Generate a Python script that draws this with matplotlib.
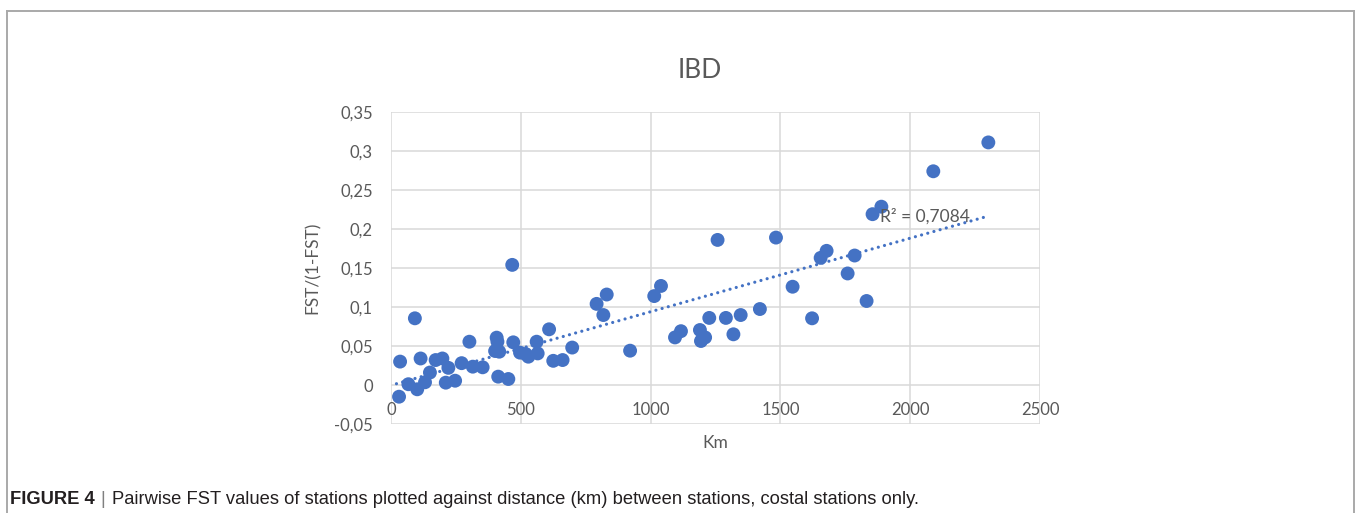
import matplotlib
matplotlib.use("Agg")
import matplotlib.pyplot as plt
from matplotlib import font_manager
from matplotlib.lines import Line2D
from matplotlib.ticker import FuncFormatter, FixedLocator
import numpy as np

# ---------------- data ----------------
km = [31, 35, 67, 92, 101, 114, 131, 150, 172, 198, 211, 221, 247, 272, 302, 315,
      353, 401, 407, 410, 413, 417, 452, 467, 471, 497, 519, 529, 561, 565, 609,
      625, 661, 698, 792, 818, 831, 921, 1014, 1040, 1094, 1117, 1190, 1194, 1210,
      1226, 1258, 1290, 1319, 1347, 1421, 1483, 1547, 1622, 1655, 1678, 1759, 1786,
      1832, 1855, 1889, 2089, 2301]
fst = [-0.015, 0.030, 0.001, 0.0855, -0.0055, 0.034, 0.0035, 0.016, 0.032, 0.034,
       0.003, 0.022, 0.0055, 0.028, 0.0555, 0.0235, 0.0227, 0.0436, 0.0607, 0.0555,
       0.0107, 0.0427, 0.0077, 0.154, 0.0547, 0.0415, 0.0397, 0.0363, 0.0555, 0.0405,
       0.0714, 0.031, 0.032, 0.048, 0.104, 0.0897, 0.116, 0.044, 0.114, 0.127, 0.061,
       0.069, 0.0705, 0.0564, 0.061, 0.086, 0.186, 0.086, 0.065, 0.0897, 0.0974,
       0.189, 0.126, 0.0855, 0.163, 0.172, 0.143, 0.166, 0.1077, 0.219, 0.2286,
       0.274, 0.311]
x_ticks = [0, 500, 1000, 1500, 2000, 2500]
y_ticks = [-0.05, 0, 0.05, 0.1, 0.15, 0.2, 0.25, 0.3, 0.35]
title = "IBD"
x_label = "Km"
y_label = "FST/(1-FST)"
r2_label = "R² = 0,7084"
caption_bold = "FIGURE 4"
caption_text = "Pairwise FST values of stations plotted against distance (km) between stations, costal stations only."

# ---------------- fonts ----------------
avail = {f.name for f in font_manager.fontManager.ttflist}
chart_font = "Lato" if "Lato" in avail else "DejaVu Sans"
cap_font = "Liberation Sans Narrow" if "Liberation Sans Narrow" in avail else "Liberation Sans"
plt.rcParams['font.family'] = [chart_font, 'DejaVu Sans']

W, H = 1355, 513
fig = plt.figure(figsize=(W / 100, H / 100), dpi=100)
fig.patch.set_facecolor("white")

# outer frame
frame_c = "#a9a9a9"
fig.add_artist(Line2D([7 / W, 1354 / W], [1 - 11 / H, 1 - 11 / H], transform=fig.transFigure, color=frame_c, lw=1.4))
fig.add_artist(Line2D([7 / W, 7 / W], [1 - 11 / H, 0], transform=fig.transFigure, color=frame_c, lw=1.4))
fig.add_artist(Line2D([1354 / W, 1354 / W], [1 - 11 / H, 0], transform=fig.transFigure, color=frame_c, lw=1.4))

ax_l, ax_r, ax_t, ax_b = 391, 1040, 112, 424
ax = fig.add_axes([ax_l / W, 1 - ax_b / H, (ax_r - ax_l) / W, (ax_b - ax_t) / H])
ax.set_xlim(0, 2500)
ax.set_ylim(-0.05, 0.35)

grid_c = "#d9d9d9"
for s in ax.spines.values():
    s.set_visible(False)
ax.xaxis.set_major_locator(FixedLocator(x_ticks))
ax.yaxis.set_major_locator(FixedLocator(y_ticks))
ax.grid(True, color=grid_c, lw=1.1, zorder=0)
ax.set_axisbelow(True)

txt_c = "#595959"
ax.yaxis.set_major_formatter(FuncFormatter(lambda v, p: ("%g" % round(v, 2)).replace(".", ",")))
ax.xaxis.set_major_formatter(FuncFormatter(lambda v, p: "%d" % v))
ax.tick_params(axis="both", length=0, labelsize=12, colors=txt_c)
ax.tick_params(axis="y", pad=13)
# x tick labels sit just below the zero line
ax.spines['bottom'].set_position(('data', 0))
ax.tick_params(axis="x", pad=12)

# scatter points
blue = "#4472c4"
ax.scatter(km, fst, s=100, color=blue, edgecolors="none", zorder=3, clip_on=False)

# linear trend line
coef = np.polyfit(km, fst, 1)
xs = np.array([min(km) - 10, max(km)])
ax.plot(xs, np.polyval(coef, xs), color=blue, lw=2.3, linestyle=(0, (0.01, 2.0)),
        dash_capstyle="round", zorder=2)
ax.text(1885, 0.2165, r2_label, fontsize=12.5, color=txt_c, va="center", ha="left", zorder=4)

# titles / labels
fig.text(700 / W, 1 - 70 / H, title, ha="center", va="center", fontsize=19, color=txt_c)
fig.text(715 / W, 1 - 443 / H, x_label, ha="center", va="center", fontsize=12.5, color=txt_c)
fig.text(313 / W, 1 - 268 / H, y_label, ha="center", va="center", fontsize=12.5, color=txt_c, rotation=90)

# caption
cap_y = 1 - 500 / H
cap_fs = 13.2
t1 = fig.text(10 / W, cap_y, caption_bold, ha="left", va="center", fontsize=cap_fs,
              fontweight="bold", family=cap_font, color="#231f20")
fig.canvas.draw()
r = fig.canvas.get_renderer()
bb = t1.get_window_extent(r)
t2 = fig.text((bb.x1 + 6) / W, cap_y, "|", ha="left", va="center", fontsize=cap_fs,
              family=cap_font, color="#808080")
bb2 = t2.get_window_extent(r)
fig.text((bb2.x1 + 6) / W, cap_y, caption_text, ha="left", va="center", fontsize=cap_fs,
         family=cap_font, color="#231f20")

fig.savefig("out.png", dpi=100, facecolor="white")
